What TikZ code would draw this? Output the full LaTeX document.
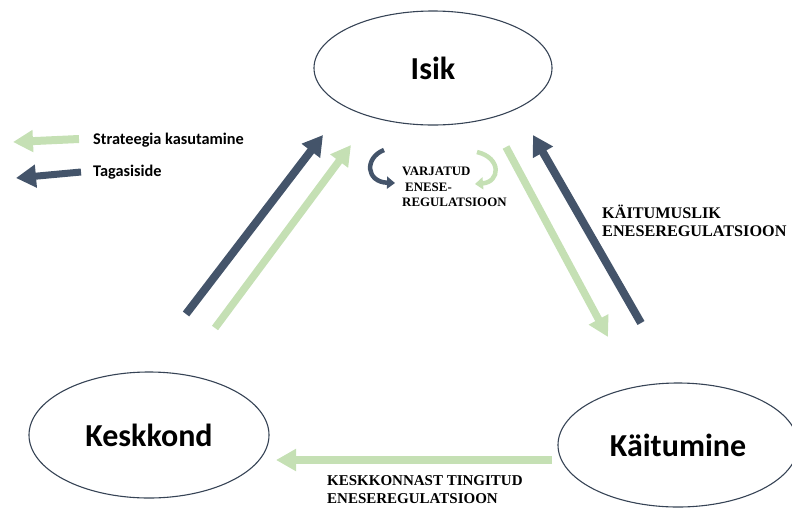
\documentclass[tikz,border=0pt]{standalone}
\usepackage{fontspec}
\setsansfont{Carlito}
\newfontfamily\labelfont{Liberation Serif}
\usetikzlibrary{shapes.geometric,arrows.meta}
\definecolor{tagasi}{HTML}{44546A}
\definecolor{strat}{HTML}{C5E0B4}
\tikzset{
	osa/.style={ellipse,draw=tagasi!80!black,line width=1.1pt,inner sep=0pt,font=\sffamily\bfseries\fontsize{32}{32}\selectfont},
	noolT/.style={draw=tagasi,line width=8pt,-{Triangle[length=20pt,width=22pt]}},
	noolS/.style={draw=strat,line width=7.5pt,-{Triangle[length=20pt,width=21pt]}},
	silt/.style={anchor=west,align=left,inner sep=0pt,font=\labelfont\bfseries\fontsize{16.2}{18}\selectfont}
}
\begin{document}
\begin{tikzpicture}[x=1pt,y=-1pt]

		\useasboundingbox (0,0) rectangle (792,509);

		\node[osa,minimum width=238pt,minimum height=114pt] (isik) at (433,68) {Isik};
		\node[osa,minimum width=240pt,minimum height=126pt] (keskkond) at (149,435) {Keskkond};
		\node[osa,minimum width=240pt,minimum height=124pt] (kaitumine) at (678,445) {K\"aitumine};

		% legend
		\coordinate (ls1) at (79,139); \coordinate (ls2) at (13,142);
		\coordinate (lt1) at (81,172); \coordinate (lt2) at (16,178);
		\draw[noolS,line width=8pt] (ls1) -- (ls2);
		\draw[noolT,line width=7pt] (lt1) -- (lt2);
		\node[anchor=west,inner sep=0pt,font=\sffamily\bfseries\fontsize{16.3}{16.3}\selectfont] (lsS) at (93,140) {Strateegia kasutamine};
		\node[anchor=west,inner sep=0pt,font=\sffamily\bfseries\fontsize{16.3}{16.3}\selectfont] (lsT) at (93,172) {Tagasiside};

		% keskkond <-> isik
		\coordinate (kt1) at (186,314); \coordinate (kt2) at (323,135);
		\coordinate (ks1) at (215,328); \coordinate (ks2) at (351,145);
		\draw[noolT] (kt1) -- (kt2);
		\draw[noolS] (ks1) -- (ks2);

		% isik <-> kaitumine
		\coordinate (is1) at (506,147); \coordinate (is2) at (608,337);
		\coordinate (it1) at (641,323); \coordinate (it2) at (533,135);
		\draw[noolS] (is1) -- (is2);
		\draw[noolT] (it1) -- (it2);

		% kaitumine -> keskkond
		\coordinate (ek1) at (552,460); \coordinate (ek2) at (276,460);
		\draw[noolS] (ek1) -- (ek2);

		% varjatud
		\coordinate (vt1) at (384,150); \coordinate (vt2) at (395,183);
		\coordinate (vs1) at (477,152); \coordinate (vs2) at (475,184);
		\draw[draw=tagasi,line width=4.5pt,-{Triangle[length=8pt,width=12pt]}] (vt1) .. controls (364,158) and (366,182) .. (vt2);
		\draw[draw=strat,line width=4.5pt,-{Triangle[length=8pt,width=12pt]}] (vs1) .. controls (502,158) and (500,182) .. (vs2);

		\node[silt,font=\labelfont\bfseries\fontsize{12.9}{15.5}\selectfont] (varj) at (402,187) {VARJATUD\\\hspace{3pt}ENESE-\\REGULATSIOON};
		\node[silt] (kaitl) at (602,221) {K\"AITUMUSLIK\\ENESEREGULATSIOON};
		\node[silt,font=\labelfont\bfseries\fontsize{15}{18}\selectfont] (keskl) at (327,490) {KESKKONNAST TINGITUD\\ENESEREGULATSIOON};
	\end{tikzpicture}
\end{document}
